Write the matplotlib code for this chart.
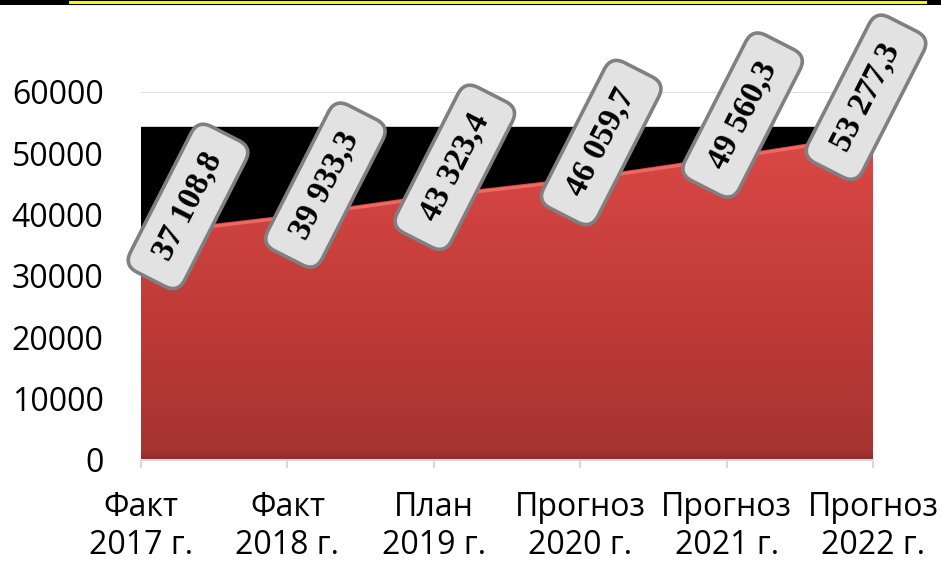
import matplotlib
matplotlib.use('Agg')
import matplotlib.pyplot as plt
import numpy as np
from matplotlib.patches import Rectangle
from matplotlib.colors import LinearSegmentedColormap

categories = ['Факт\n2017 г.', 'Факт\n2018 г.', 'План\n2019 г.',
              'Прогноз\n2020 г.', 'Прогноз\n2021 г.', 'Прогноз\n2022 г.']
values = [37108.8, 39933.3, 43323.4, 46059.7, 49560.3, 53277.3]
value_labels = ['37 108,8', '39 933,3', '43 323,4', '46 059,7', '49 560,3', '53 277,3']
yticks = [0, 10000, 20000, 30000, 40000, 50000, 60000]

# layout: label offsets in pixels
label_offsets = [(47, 26), (38, 30), (21, 27), (21, 35), (16, 41), (-7, 36)]

W, H = 941, 564
fig = plt.figure(figsize=(W / 100, H / 100), dpi=100)
fig.patch.set_facecolor('white')
ax = fig.add_axes([141 / W, 104 / H, (873 - 141) / W, (460 - 92) / H])
ax.set_facecolor('white')

x = np.arange(len(values))

# black background band of plot area
ax.axhspan(0, 54300, color='black', zorder=0.6)
ax.axhline(60000, color='#d9d9d9', lw=1.2, zorder=0.5)

poly = ax.fill_between(x, values, 0, facecolor='none', edgecolor='none', zorder=1)
grad = np.linspace(0, 1, 256).reshape(-1, 1)
cmap = LinearSegmentedColormap.from_list(
    'r', [(0.0, '#8f2b29'), (0.03, '#a63432'), (0.4, '#bd3a37'), (1.0, '#dc4946')])
im = ax.imshow(grad, extent=[0, 5, 0, 54000], origin='lower', aspect='auto',
               cmap=cmap, zorder=1, interpolation='bilinear')
im.set_clip_path(poly.get_paths()[0], transform=ax.transData)
ax.plot(x, np.array(values) - 400, color='#ec6a65', lw=2.2, zorder=2, solid_capstyle='butt')

ax.set_xlim(0, 5)
ax.set_ylim(0, 60000)

for s in ['top', 'right', 'left']:
    ax.spines[s].set_visible(False)
ax.spines['bottom'].set_color('#d9d9d9')
ax.spines['bottom'].set_linewidth(1.5)
ax.spines['bottom'].set_zorder(3)

ax.set_yticks(yticks)
ax.set_yticklabels([str(t) for t in yticks], fontfamily='Open Sans', fontsize=23)
ax.tick_params(axis='y', length=0, pad=27)
ax.set_xticks(x)
ax.set_xticklabels(categories, fontfamily='Open Sans', fontsize=23, linespacing=1.2)
ax.tick_params(axis='x', length=6, width=1.5, color='#d9d9d9', pad=16)

for xi, v, lab, off in zip(x, values, value_labels, label_offsets):
    ax.annotate(' ' + lab + ' ', xy=(xi, v), xytext=off, textcoords='offset pixels',
                ha='center', va='center', rotation=63, rotation_mode='anchor',
                fontfamily='Liberation Serif', fontweight='bold', fontsize=24,
                annotation_clip=False, zorder=5,
                bbox=dict(boxstyle='round,pad=0.45,rounding_size=0.45',
                          fc='#e2e2e2', ec='#808080', lw=2.6))

# top banner strip
fig.add_artist(Rectangle((0, 1 - 5 / H), 1, 5 / H, transform=fig.transFigure,
                         facecolor='black', edgecolor='none'))
fig.add_artist(Rectangle((68 / W, 1 - 4 / H), (927 - 68) / W, 3.5 / H,
                         transform=fig.transFigure, facecolor='#ffff00',
                         edgecolor='black', lw=0.8))

fig.savefig('out.png', dpi=100)
